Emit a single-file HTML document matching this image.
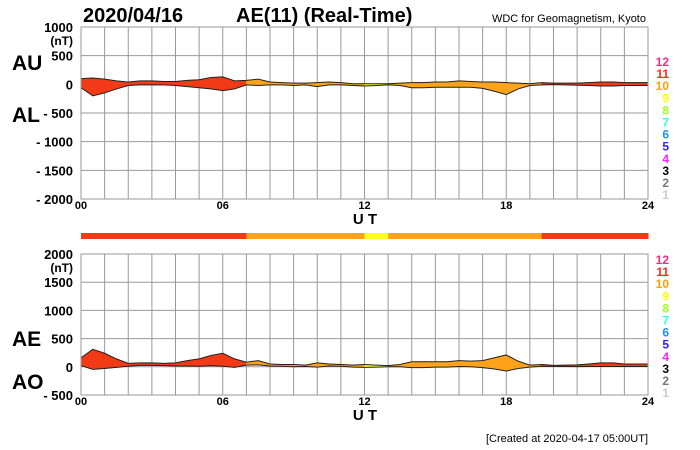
<!DOCTYPE html>
<html><head><meta charset="utf-8"><style>
body{margin:0;background:#fff;width:700px;height:450px;overflow:hidden}
svg{display:block;font-family:"Liberation Sans",Arial,sans-serif;font-weight:bold}
</style></head><body>
<svg id="c" width="700" height="450">
<text x="83" y="22" font-size="20">2020/04/16</text>
<text x="236" y="22" font-size="20">AE(11) (Real-Time)</text>
<text x="646" y="22" font-size="11" font-weight="normal" text-anchor="end">WDC for Geomagnetism, Kyoto</text>
<text x="12" y="70" font-size="21">AU</text>
<text x="12" y="122" font-size="21">AL</text>
<text x="12" y="346" font-size="21">AE</text>
<text x="12" y="389" font-size="21">AO</text>
<text x="365" y="224" font-size="15" text-anchor="middle">U T</text>
<text x="365" y="420" font-size="15" text-anchor="middle">U T</text>
<text x="648" y="442" font-size="11" font-weight="normal" text-anchor="end">[Created at 2020-04-17 05:00UT]</text>
<g id="g"></g>
</svg>
<script>
const hours=[0,0.5,1,1.5,2,2.5,3,3.5,4,4.5,5,5.5,6,6.5,7,7.5,8,8.5,9,9.5,10,10.5,11,11.5,12,12.5,13,13.5,14,14.5,15,15.5,16,16.5,17,17.5,18,18.5,19,19.5,20,20.5,21,21.5,22,22.5,23,23.5,24];
const au=[100,110,90,60,40,60,60,50,50,70,80,120,130,60,70,90,40,30,20,20,30,40,30,10,10,10,10,20,30,30,40,40,60,50,40,40,30,20,10,30,20,20,20,30,40,40,30,30,30];
const al=[-60,-200,-150,-80,-20,-10,-10,-10,-20,-40,-60,-80,-110,-80,-10,-20,-10,-10,-20,-10,-40,-10,-10,-20,-30,-20,-10,-20,-60,-60,-50,-50,-50,-50,-70,-120,-180,-80,-20,-10,-5,-10,-15,-20,-30,-30,-20,-20,-20];
const stations=[11,11,11,11,11,11,11,11,11,11,11,11,11,11,10,10,10,10,10,10,10,10,10,10,9,9,10,10,10,10,10,10,10,10,10,10,10,10,10,11,11,11,11,11,11,11,11,11,11];
const colorOf={11:'#f33a17',10:'#ffa41a',9:'#ffff20'};
const legendNums=['12','11','10','9','8','7','6','5','4','3','2','1'];
const legendCols=['#ff2a80','#ff2a10','#ffa000','#ffff00','#a0ff20','#30ffe0','#2090ff','#3020ff','#ff20ff','#000','#777','#ccc'];
const topTicks=[1000,500,0,-500,-1000,-1500,-2000];
const botTicks=[2000,1500,1000,500,0,-500];
const xTicks=[0,6,12,18,24];
const NS='http://www.w3.org/2000/svg',G=document.getElementById('g');
function mk(t,a,txt){const e=document.createElementNS(NS,t);for(const k in a)e.setAttribute(k,a[k]);if(txt!=null)e.textContent=txt;G.appendChild(e);return e;}
const X0=81,X1=648,x=h=>X0+(X1-X0)*h/24;
function panel(top,bot,vmax,vmin,ticks,hi,lo,name,lg0){
  const y=v=>top+(vmax-v)*(bot-top)/(vmax-vmin);
  let r=mk('rect',{x:X0,y:top,width:X1-X0,height:bot-top,fill:'#fff'});
  
  
  for(let h=1;h<24;h++){let l=mk('line',{x1:x(h),x2:x(h),y1:top,y2:bot,stroke:'#999','stroke-width':1});
    
    }
  ticks.forEach((t,i)=>{if(i>0&&i<ticks.length-1){let l=mk('line',{x1:X0,x2:X1,y1:y(t),y2:y(t),stroke:'#999','stroke-width':1});
    
    }
    let s=t<0?'- '+(-t):String(t);
    let tx=mk('text',{x:73,y:y(t)+5,'font-size':13,'text-anchor':'end'},s);
    
    
  });
  let nt=mk('text',{x:73,y:y(ticks[0])+18,'font-size':12,'text-anchor':'end'},'(nT)');
  
  
  for(let i=0;i<hours.length-1;i++){
    const p=[[x(hours[i]),y(hi[i])],[x(hours[i+1]),y(hi[i+1])],[x(hours[i+1]),y(lo[i+1])],[x(hours[i]),y(lo[i])]];
    let pg=mk('polygon',{points:p.map(q=>q.join(',')).join(' '),fill:colorOf[stations[i]],stroke:colorOf[stations[i]],'stroke-width':0.6});
    
    
  }
  [hi,lo].forEach((arr,k)=>{let pl=mk('polyline',{points:hours.map((h,i)=>x(h)+','+y(arr[i])).join(' '),fill:'none',stroke:'#222','stroke-width':1});
    
    });
  let b=mk('rect',{x:X0,y:top,width:X1-X0,height:bot-top,fill:'none',stroke:'#999'});
  
  
  xTicks.forEach(h=>{let t=mk('text',{x:x(h),y:bot+10,'font-size':11,'text-anchor':'middle'},String(h).padStart(2,'0'));
    
    });
  legendNums.forEach((n,i)=>{let t=mk('text',{x:669,y:lg0+i*12.1,'font-size':12,'text-anchor':'end',fill:legendCols[i]},n);
    
    });
}
panel(27,199,1000,-2000,topTicks,au,al,'au-al',66);
const ae=au.map((v,i)=>v-al[i]), ao=au.map((v,i)=>(v+al[i])/2);
panel(254,395,2000,-500,botTicks,ae,ao,'ae-ao',264);
for(let i=0;i<hours.length-1;i++){
  let r=mk('rect',{x:x(hours[i]),y:233,width:x(hours[i+1])-x(hours[i])+0.5,height:6,fill:colorOf[stations[i]]});
  
  
}
</script>
</body></html>
